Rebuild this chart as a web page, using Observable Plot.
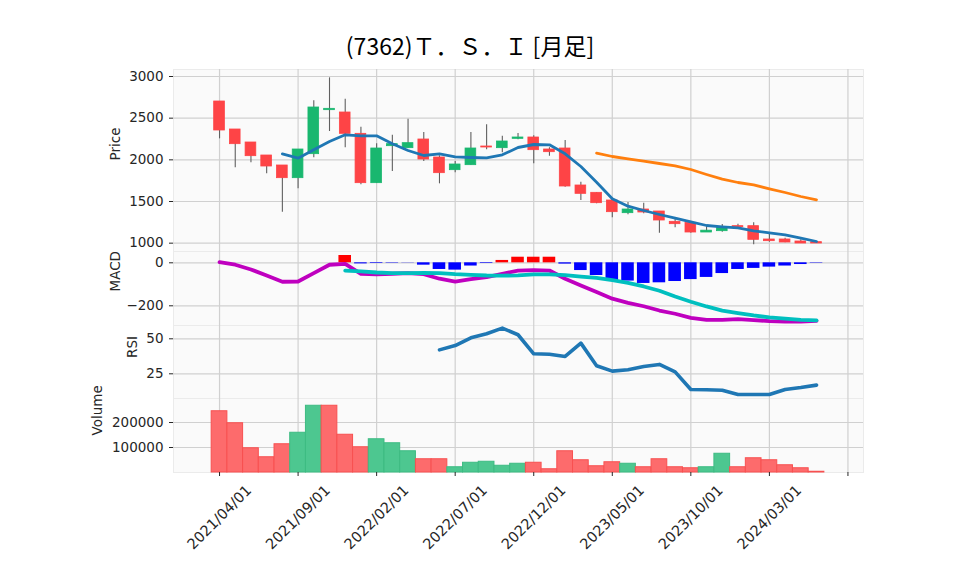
<!DOCTYPE html>
<html><head><meta charset="utf-8">
<script src="https://cdn.jsdelivr.net/npm/d3@7"></script>
<script src="https://cdn.jsdelivr.net/npm/@observablehq/plot@0.6"></script>
<style>
body{margin:0;background:#fff;}
#chart{position:relative;width:958px;height:575px;overflow:hidden;background:#fff;}
#title{position:absolute;left:0;width:940px;top:30px;text-align:center;font-family:"Noto Sans CJK JP",sans-serif;font-size:23px;color:#000;line-height:30px;}
.panel{position:absolute;left:0;}
</style></head><body>
<div id="chart"><div id="title">(7362)Ｔ．Ｓ．Ｉ [月足]</div></div>
<script>
const months = ["2021/04","2021/05","2021/06","2021/07","2021/08","2021/09","2021/10","2021/11","2021/12",
"2022/01","2022/02","2022/03","2022/04","2022/05","2022/06","2022/07","2022/08","2022/09","2022/10","2022/11","2022/12",
"2023/01","2023/02","2023/03","2023/04","2023/05","2023/06","2023/07","2023/08","2023/09","2023/10","2023/11","2023/12",
"2024/01","2024/02","2024/03","2024/04","2024/05","2024/06"];
const opens  = [2700,2364,2208,2052,1932,1780,2068,2596,2568,2312,1720,2164,2140,2244,2028,1876,1936,2160,2140,2252,2268,2124,2136,1692,1604,1512,1360,1404,1380,1256,1244,1128,1144,1204,1204,1044,1044,1020,1012];
const highs  = [2700,2364,2208,2052,1932,2124,2708,2984,2728,2390,2192,2296,2488,2328,2048,1980,2328,2420,2284,2316,2288,2144,2232,1732,1604,1540,1488,1480,1380,1288,1248,1212,1224,1228,1245,1112,1060,1040,1012];
const lows   = [2252,1904,1964,1832,1372,1652,2024,2340,2144,1700,1720,1860,2140,1980,1712,1844,1936,2120,2084,2240,1952,2044,1672,1512,1472,1304,1340,1352,1120,1184,1120,1128,1132,1188,980,1012,1004,996,996];
const closes = [2352,2188,2044,1920,1780,2124,2628,2612,2312,1720,2136,2188,2200,2004,1840,1944,2136,2148,2220,2268,2116,2092,1680,1592,1480,1372,1404,1368,1272,1228,1128,1150,1192,1192,1040,1024,1008,996,996];
const ma5  = [null,null,null,null,2072,2020,2120,2220,2300,2288,2288,2192,2112,2052,2072,2036,2028,2024,2060,2148,2184,2180,2072,1920,1732,1532,1444,1392,1344,1300,1256,1212,1196,1184,1148,1124,1100,1060,1020];
const ma25 = [null,null,null,null,null,null,null,null,null,null,null,null,null,null,null,null,null,null,null,null,null,null,null,null,2080,2040,2012,1984,1956,1928,1884,1824,1768,1728,1700,1652,1608,1560,1520];
const macd = [3,-9,-31,-59,-88,-87,-48,-9,-5,-51,-54,-51,-48,-53,-74,-87,-76,-67,-51,-36,-34,-36,-74,-105,-136,-167,-186,-202,-222,-237,-256,-265,-265,-262,-267,-271,-273,-273,-270];
const signal = [null,null,null,null,null,null,null,null,-36,-40,-45,-48,-48,-47,-48,-53,-56,-59,-60,-58,-54,-54,-57,-64,-70,-81,-93,-110,-130,-157,-181,-203,-222,-234,-245,-254,-260,-265,-268];
const hist = [null,null,null,null,null,null,null,null,34,-5,-3,-2,-1,-11,-31,-34,-15,-3,11,26,26,26,-6,-36,-59,-87,-85,-96,-93,-87,-78,-68,-50,-31,-26,-20,-15,-8,-2];
const rsi = [null,null,null,null,null,null,null,null,null,null,null,null,null,null,42.1,45.2,50.7,53.6,57.6,52.9,39.3,39.0,37.4,46.9,30.7,26.9,27.9,30.2,31.7,26.4,13.8,13.6,13.3,10.2,10.2,10.2,13.8,15.2,16.9];
const volume = [245000,197000,97000,61000,113000,159000,267000,267000,151000,101000,133000,117000,85000,53000,53000,21000,39000,43000,27000,35000,39000,13000,85000,49000,25000,41000,35000,21000,53000,21000,17000,21000,75000,21000,57000,49000,29000,17000,3000];
const volumeUp = [0,0,0,0,0,1,1,0,0,0,1,1,1,0,0,1,1,1,1,1,0,0,0,0,0,0,1,0,0,0,0,1,1,0,0,0,0,0,0];
const xTickIndex = [0,5,10,15,20,25,30,35,40];
const xTickLabels = ["2021/04/01","2021/09/01","2022/02/01","2022/07/01","2022/12/01","2023/05/01","2023/10/01","2024/03/01",""];
const priceTicks = [1000,1500,2000,2500,3000];
const macdTicks = [-200,0];
const rsiTicks = [25,50];
const volumeTicks = [100000,200000];

const rows = months.map((m,i)=>({i, m, open:opens[i], high:highs[i], low:lows[i], close:closes[i],
  ma5:ma5[i], ma25:ma25[i], macd:macd[i], signal:signal[i], hist:hist[i], rsi:rsi[i], vol:volume[i], vup:volumeUp[i]}));

const fmt = d => d < 0 ? "\u2212" + Math.abs(d) : String(d);
const xScale = {domain: [-2.93, 40.99]};
const base = {width: 958, marginLeft: 173, marginRight: 95,
  style: {fontFamily: "DejaVu Sans, sans-serif", fontSize: "13.5px", color: "#262626", background: "transparent", overflow: "visible"}};
const gridStyle = {stroke: "#d0d0d0", strokeOpacity: 1, strokeWidth: 1.2};
const frameStyle = {fill: "#fafafa", stroke: "#ebebeb"};
const axisStyle = t => Plot.axisY(t, {tickSize: 4, tickPadding: 6, tickFormat: fmt, label: null, fontSize: 13.5});
const upC = "#19b76f", dnC = "#fe4446";

function place(svg, top){ svg.classList.add("panel"); svg.style.top = top + "px"; document.getElementById("chart").appendChild(svg); }

// Price panel
place(Plot.plot({...base, height: 251, marginTop: 69, marginBottom: 0,
  x: {...xScale, axis: null}, y: {domain: [900, 3084]},
  marks: [
    Plot.frame(frameStyle),
    Plot.gridX(xTickIndex, gridStyle),
    Plot.gridY(priceTicks, gridStyle),
    axisStyle(priceTicks),
    Plot.text(["Price"], {text: d => d, frameAnchor: "left", dx: -58, rotate: -90, fontSize: 13.5}),
    Plot.ruleX(rows, {x: "i", y1: "low", y2: "high", stroke: "#606060", strokeWidth: 1.1}),
    Plot.rect(rows, {x1: d => d.i - 0.34, x2: d => d.i + 0.34, y1: "open", y2: "close",
      fill: d => d.close >= d.open ? upC : dnC, stroke: d => d.close >= d.open ? upC : dnC, strokeWidth: 0.8}),
    Plot.line(rows, {x: "i", y: "ma5", stroke: "#1f77b4", strokeWidth: 2.8}),
    Plot.line(rows, {x: "i", y: "ma25", stroke: "#ff7f0e", strokeWidth: 2.8})
  ]}), 0);

// MACD panel
place(Plot.plot({...base, height: 74, marginTop: 0, marginBottom: 0,
  x: {...xScale, axis: null}, y: {domain: [-291.6, 52.6]},
  marks: [
    Plot.frame(frameStyle),
    Plot.gridX(xTickIndex, gridStyle),
    Plot.gridY(macdTicks, gridStyle),
    axisStyle(macdTicks),
    Plot.text(["MACD"], {text: d => d, frameAnchor: "left", dx: -58, dy: 3, rotate: -90, fontSize: 13.5}),
    Plot.rect(rows.filter(d => d.hist != null), {x1: d => d.i - 0.4, x2: d => d.i + 0.4, y1: 0, y2: "hist",
      fill: d => d.hist >= 0 ? "#ff0000" : "#0000ff"}),
    Plot.line(rows, {x: "i", y: "macd", stroke: "#bf00bf", strokeWidth: 3.8}),
    Plot.line(rows, {x: "i", y: "signal", stroke: "#00bfbf", strokeWidth: 3.8})
  ]}), 251);

// RSI panel
place(Plot.plot({...base, height: 73, marginTop: 0, marginBottom: 0,
  x: {...xScale, axis: null}, y: {domain: [7.36, 59.5]},
  marks: [
    Plot.frame(frameStyle),
    Plot.gridX(xTickIndex, gridStyle),
    Plot.gridY(rsiTicks, gridStyle),
    axisStyle(rsiTicks),
    Plot.text(["RSI"], {text: d => d, frameAnchor: "left", dx: -41, dy: -4, rotate: -90, fontSize: 13.5}),
    Plot.line(rows, {x: "i", y: "rsi", stroke: "#1f77b4", strokeWidth: 3.6})
  ]}), 325);

// Volume panel + x axis
place(Plot.plot({...base, height: 177, marginTop: 0, marginBottom: 103,
  x: {...xScale}, y: {domain: [0, 296000]},
  marks: [
    Plot.frame(frameStyle),
    Plot.gridX(xTickIndex, gridStyle),
    Plot.gridY(volumeTicks, gridStyle),
    axisStyle(volumeTicks),
    Plot.text(["Volume"], {text: d => d, frameAnchor: "left", dx: -76, rotate: -90, fontSize: 13.5}),
    Plot.rect(rows, {x1: d => d.i - 0.5, x2: d => d.i + 0.5, y1: 0, y2: "vol",
      fill: d => d.vup ? "#4dc790" : "#fd6b6c", stroke: d => d.vup ? "#3dbb82" : "#f85050", strokeWidth: 1}),
    Plot.axisX(xTickIndex, {tickSize: 4, tickFormat: () => "", label: null}),
    Plot.text(xTickIndex, {x: d => d, text: (d, i) => xTickLabels[i], frameAnchor: "bottom", dy: 45,
      rotate: -45, lineAnchor: "middle", textAnchor: "middle", fontSize: 14.5, fill: "#262626"})
  ]}), 398);
</script>
</body></html>
